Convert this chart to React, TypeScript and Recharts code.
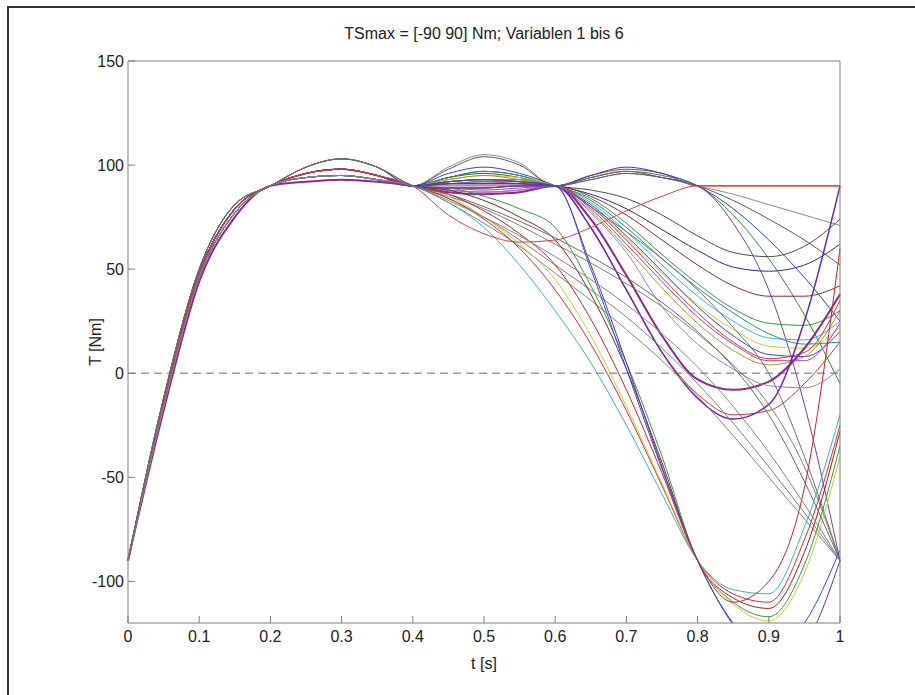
import { LineChart, Line, XAxis, YAxis, ReferenceLine } from 'recharts'

// sample times (s)
const T = [0, 0.05, 0.1, 0.15, 0.2, 0.25, 0.3, 0.35, 0.4, 0.45, 0.5, 0.55, 0.6, 0.65, 0.7, 0.75, 0.8, 0.85, 0.9, 0.95, 1]

const X_TICKS = [0, 0.1, 0.2, 0.3, 0.4, 0.5, 0.6, 0.7, 0.8, 0.9, 1]
const Y_TICKS = [-100, -50, 0, 50, 100, 150]

// common start of every run, t = 0 .. 0.4
const HEAD_HI = [-90, -12, 50, 81, 90, 99, 103, 99, 90]
const HEAD_MID = [-90, -14, 48, 79, 90, 96, 98, 95, 90]
const HEAD_LO = [-90, -16, 46, 77, 90, 94, 95, 93, 90]
const HEAD_FLAT = [-90, -18, 44, 75, 90, 92, 93, 92, 90]
const HEADS = [HEAD_HI, HEAD_MID, HEAD_LO, HEAD_FLAT]

// which start each run uses
const HEAD_OF = [1, 0, 0, 1, 2, 1, 1, 2, 2, 1, 2, 1, 0, 2, 1, 2, 1, 3, 1, 2, 1, 1, 0, 2, 1, 2, 1, 2, 1, 2, 1, 2, 1, 1, 2, 0]

// rest of every run, t = 0.45 .. 1
const TAILS = [
  [91, 92, 91, 90, 95, 98, 96, 90, 90, 90, 90, 90],
  [99, 105, 101, 90, 93, 96, 94, 90, 86, 81, 76, 71],
  [98, 104, 100, 90, 94, 97, 94, 90, 83, 74, 64, 52],
  [94, 97, 95, 90, 95, 99, 96, 90, 79, 64, 46, 25],
  [92, 93, 93, 90, 94, 97, 95, 90, 76, 55, 28, -5],
  [89, 89, 90, 90, 93, 96, 94, 90, 72, 40, -15, -90],
  [94, 96, 94, 90, 88, 84, 76, 66, 58, 56, 61, 74],
  [92, 93, 92, 90, 86, 79, 69, 59, 51, 49, 52, 62],
  [89, 89, 90, 90, 85, 76, 64, 52, 42, 37, 37, 42],
  [94, 97, 95, 90, 84, 72, 57, 43, 31, 24, 23, 30],
  [92, 93, 93, 90, 82, 68, 52, 37, 25, 17, 16, 25],
  [93, 95, 94, 90, 80, 65, 48, 33, 21, 13, 12, 22],
  [96, 99, 96, 90, 81, 66, 49, 32, 18, 9, 8, 20],
  [89, 88, 89, 90, 79, 62, 44, 27, 14, 6, 6, 24],
  [91, 92, 92, 90, 83, 70, 55, 41, 29, 19, 14, 15],
  [88, 87, 88, 90, 80, 64, 46, 29, 15, 7, 10, 35],
  [93, 95, 93, 90, 78, 60, 41, 24, 11, 4, 8, 30],
  [87, 86, 87, 90, 74, 47, 18, -3, -8, -4, 12, 38],
  [90, 90, 90, 90, 70, 40, 10, -10, -20, -18, -5, 15],
  [88, 87, 88, 90, 77, 58, 32, 14, 2, -6, -7, 2],
  [91, 91, 91, 90, 70, 40, 10, -12, -22, -15, 25, 90],
  [84, 75, 64, 52, 40, 27, 12, -5, -24, -45, -67, -90],
  [85, 79, 71, 62, 53, 43, 32, 19, 4, -15, -45, -90],
  [82, 72, 61, 48, 35, 21, 6, -11, -30, -50, -70, -90],
  [92, 93, 92, 90, 80, 68, 55, 40, 22, 0, -40, -90],
  [84, 74, 60, 40, 14, -18, -54, -90, -106, -110, -80, -25],
  [88, 83, 75, 64, 38, 2, -43, -90, -108, -113, -86, -28],
  [82, 70, 52, 30, 5, -25, -58, -90, -104, -106, -74, -20],
  [89, 85, 79, 70, 42, 5, -40, -90, -110, -117, -92, -35],
  [85, 75, 62, 45, 18, -16, -53, -90, -111, -119, -96, -40],
  [92, 93, 92, 90, 52, 5, -45, -90, -121, -140, -130, -90],
  [89, 89, 90, 90, 50, 2, -46, -90, -120, -134, -120, -85],
  [86, 78, 67, 52, 26, -8, -48, -90, -110, -100, -55, 60],
  [76, 67, 63, 64, 70, 78, 85, 90, 90, 90, 90, 90],
  [83, 75, 66, 56, 45, 33, 19, 3, -16, -38, -63, -90],
  [86, 80, 73, 65, 56, 46, 34, 20, 3, -20, -52, -90],
]

const COLORS = [
  '#d62020', '#8a8a8a', '#5a5a5a', '#2b3fc4', '#2f8f2f', '#7a3db0',
  '#4d4d4d', '#2a2a8a', '#8b2a3a', '#2e9a3e', '#3cb8c8', '#c9c93a',
  '#3344cc', '#b03aa8', '#2a8c8c', '#cc3333', '#9a9a2a', '#8a2a8a',
  '#c83c3c', '#9a7ad0', '#6a2ab0', '#808080', '#8c7a7a', '#7a8a7a',
  '#707070', '#d03030', '#902020', '#40b0c0', '#3a9a3a', '#c8c840',
  '#6030a0', '#3050d0', '#c02828', '#d04040', '#858585', '#6a6a6a',
]

const rows = T.map((t, i) => {
  const row: Record<string, number> = { t }
  TAILS.forEach((tail, k) => {
    const full = [...HEADS[HEAD_OF[k]], ...tail]
    row['c' + k] = full[i]
  })
  return row
})

const font = '"Liberation Sans", Arial, sans-serif'
const axisColor = '#7f7f7f'
const textStyle = { fill: '#222', fontSize: 16 }

export default function App() {
  return (
    <div style={{ position: 'absolute', left: 0, top: 0, width: 915, height: 695, background: '#fff', fontFamily: font, overflow: 'hidden' }}>
      {/* figure frame */}
      <div style={{ position: 'absolute', left: 7, top: 6, width: 915, height: 695, borderLeft: '2px solid #333', borderTop: '2px solid #333' }} />
      <div style={{ position: 'absolute', left: 128, top: 24, width: 712, textAlign: 'center', fontSize: 16, lineHeight: '20px', color: '#222' }}>
        TSmax = [-90 90] Nm; Variablen 1 bis 6
      </div>
      <LineChart
        width={915}
        height={695}
        data={rows}
        margin={{ top: 60, right: 74, bottom: 22, left: 78 }}
        style={{ position: 'absolute', left: 0, top: 0, fontFamily: font }}
      >
        <XAxis
          dataKey="t"
          type="number"
          domain={[0, 1]}
          ticks={X_TICKS}
          interval={0}
          height={50}
          tickSize={-7}
          tickMargin={15}
          stroke={axisColor}
          tick={textStyle}
          label={{ value: 't [s]', position: 'insideBottom', offset: 4, style: textStyle }}
        />
        <XAxis xAxisId="top" orientation="top" dataKey="t" type="number" domain={[0, 1]} ticks={X_TICKS} interval={0} height={1} tickSize={-7} tick={false} stroke={axisColor} />
        <YAxis
          type="number"
          domain={[-120, 150]}
          ticks={Y_TICKS}
          interval={0}
          allowDataOverflow
          width={50}
          tickSize={-7}
          tickMargin={11}
          stroke={axisColor}
          tick={textStyle}
          label={{ value: 'T [Nm]', angle: -90, position: 'insideLeft', offset: 17, style: { ...textStyle, textAnchor: 'middle' } }}
        />
        <YAxis yAxisId="right" orientation="right" type="number" domain={[-120, 150]} ticks={Y_TICKS} interval={0} allowDataOverflow width={1} tickSize={-7} tick={false} stroke={axisColor} />
        <ReferenceLine y={0} stroke="#999" strokeDasharray="8 5" strokeWidth={1.5} />
        {TAILS.map((_, k) => (
          <Line
            key={k}
            dataKey={'c' + k}
            type="monotone"
            stroke={COLORS[k]}
            strokeWidth={k === 17 ? 2 : k === 20 ? 1.5 : 1}
            dot={false}
            activeDot={false}
            isAnimationActive={false}
          />
        ))}
      </LineChart>
    </div>
  )
}
